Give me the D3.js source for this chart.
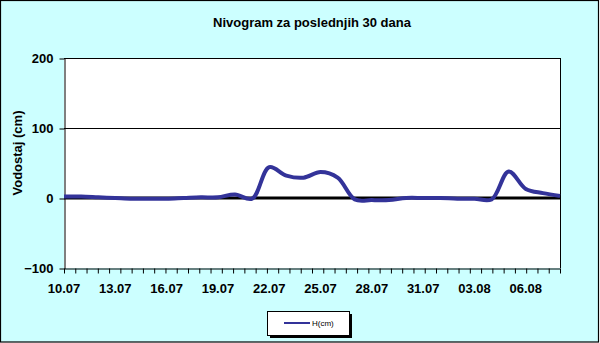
<!DOCTYPE html>
<html>
<head>
<meta charset="utf-8">
<script src="https://cdn.jsdelivr.net/npm/d3@7"></script>
<style>
  body { margin: 0; background: #fff; }
  svg { display: block; font-family: "Liberation Sans", Arial, sans-serif; }
</style>
</head>
<body>
<div id="chart"></div>
<script>
// daily readings, 10.07 .. 08.08
const dates = ["10.07","11.07","12.07","13.07","14.07","15.07","16.07","17.07","18.07","19.07",
               "20.07","21.07","22.07","23.07","24.07","25.07","26.07","27.07","28.07","29.07",
               "30.07","31.07","01.08","02.08","03.08","04.08","05.08","06.08","07.08","08.08"];
const levels = [2, 2, 1, 0, -1, -1, -1, 0, 1, 1,
                5, -1, 44, 32, 29, 37, 29, -2, -3, -3,
                0, 0, 0, -1, -1, -2, 38, 13, 7, 3];
const yTicks = [-100, 0, 100, 200];
const labelEvery = 3;
const seriesName = "H(cm)";

const width = 600, height = 343;
const margin = {left: 64, right: 40, top: 58, bottom: 75};

const svg = d3.select("#chart")
    .append("svg")
    .attr("width", width)
    .attr("height", height);

svg.append("rect")
    .attr("x", 0.5).attr("y", 0.5)
    .attr("width", 598).attr("height", 341.5)
    .attr("fill", "#ccffff")
    .attr("stroke", "#000")
    .attr("stroke-width", 1.2);

const x = d3.scaleLinear()
    .domain([0, dates.length - 1])
    .range([margin.left, width - margin.right]);

const y = d3.scaleLinear()
    .domain([-100, 200])
    .range([height - margin.bottom, margin.top]);

// plot area
svg.append("rect")
    .attr("x", x(0)).attr("y", y(200))
    .attr("width", x(dates.length - 1) - x(0))
    .attr("height", y(-100) - y(200))
    .attr("fill", "#fff");

// gridlines
svg.selectAll(".grid")
    .data(yTicks.filter(d => d !== 0 && d !== -100))
    .enter()
    .append("line")
    .attr("x1", x(0)).attr("x2", x(dates.length - 1))
    .attr("y1", d => Math.round(y(d)) + 0.5)
    .attr("y2", d => Math.round(y(d)) + 0.5)
    .attr("stroke", "#000");

// right border
svg.append("line")
    .attr("x1", Math.round(x(dates.length - 1)) + 0.5)
    .attr("x2", Math.round(x(dates.length - 1)) + 0.5)
    .attr("y1", y(200)).attr("y2", y(-100))
    .attr("stroke", "#000");

// y axis
const yAxis = svg.append("g")
    .attr("transform", "translate(" + (Math.round(x(0)) + 0.5) + ",0.5)")
    .call(d3.axisLeft(y).tickValues(yTicks).tickSize(5).tickSizeOuter(0).tickPadding(6));
yAxis.select(".domain").attr("stroke", "#000");
yAxis.selectAll("text")
    .attr("font-size", 13).attr("font-weight", "bold").attr("fill", "#000")
    .attr("font-family", "Liberation Sans, Arial, sans-serif");

// x axis
const tickVals = d3.range(45).map(i => i * (dates.length - 1) / 44);
const xAxis = svg.append("g")
    .attr("transform", "translate(0," + (Math.round(y(-100)) + 0.5) + ")")
    .call(d3.axisBottom(x).tickValues(tickVals).tickSize(5).tickSizeOuter(0).tickFormat(""));
xAxis.select(".domain").attr("stroke", "#000");

svg.append("g")
    .selectAll("text")
    .data(dates.filter((d, i) => i % labelEvery === 0))
    .enter()
    .append("text")
    .attr("x", (d, i) => x(i * labelEvery))
    .attr("y", y(-100) + 25)
    .attr("text-anchor", "middle")
    .attr("font-size", 13)
    .attr("font-weight", "bold")
    .text(d => d);

// zero line
svg.append("line")
    .attr("x1", x(0)).attr("x2", x(dates.length - 1))
    .attr("y1", y(0)).attr("y2", y(0))
    .attr("stroke", "#000")
    .attr("stroke-width", 3);

// series
const line = d3.line()
    .x((d, i) => x(i))
    .y(d => y(d))
    .curve(d3.curveCatmullRom.alpha(0.5));

svg.append("path")
    .datum(levels)
    .attr("d", line)
    .attr("fill", "none")
    .attr("stroke", "#333399")
    .attr("stroke-width", 4)
    .attr("stroke-linejoin", "round");

// titles
svg.append("text")
    .attr("x", 312).attr("y", 27)
    .attr("text-anchor", "middle")
    .attr("font-size", 13)
    .attr("font-weight", "bold")
    .text("Nivogram za poslednjih 30 dana");

svg.append("text")
    .attr("transform", "translate(22,153) rotate(-90)")
    .attr("text-anchor", "middle")
    .attr("font-size", 13)
    .attr("font-weight", "bold")
    .text("Vodostaj (cm)");

// legend
const lg = svg.append("g").attr("transform", "translate(267,311)");
lg.append("rect")
    .attr("x", 3).attr("y", 3)
    .attr("width", 82).attr("height", 24)
    .attr("fill", "#000");
lg.append("rect")
    .attr("x", 0.5).attr("y", 0.5)
    .attr("width", 82).attr("height", 24)
    .attr("fill", "#fff")
    .attr("stroke", "#000");
lg.append("line")
    .attr("x1", 17).attr("x2", 43)
    .attr("y1", 12).attr("y2", 12)
    .attr("stroke", "#333399")
    .attr("stroke-width", 2);
lg.append("text")
    .attr("x", 45).attr("y", 15)
    .attr("font-size", 8)
    .text(seriesName);
</script>
</body>
</html>
